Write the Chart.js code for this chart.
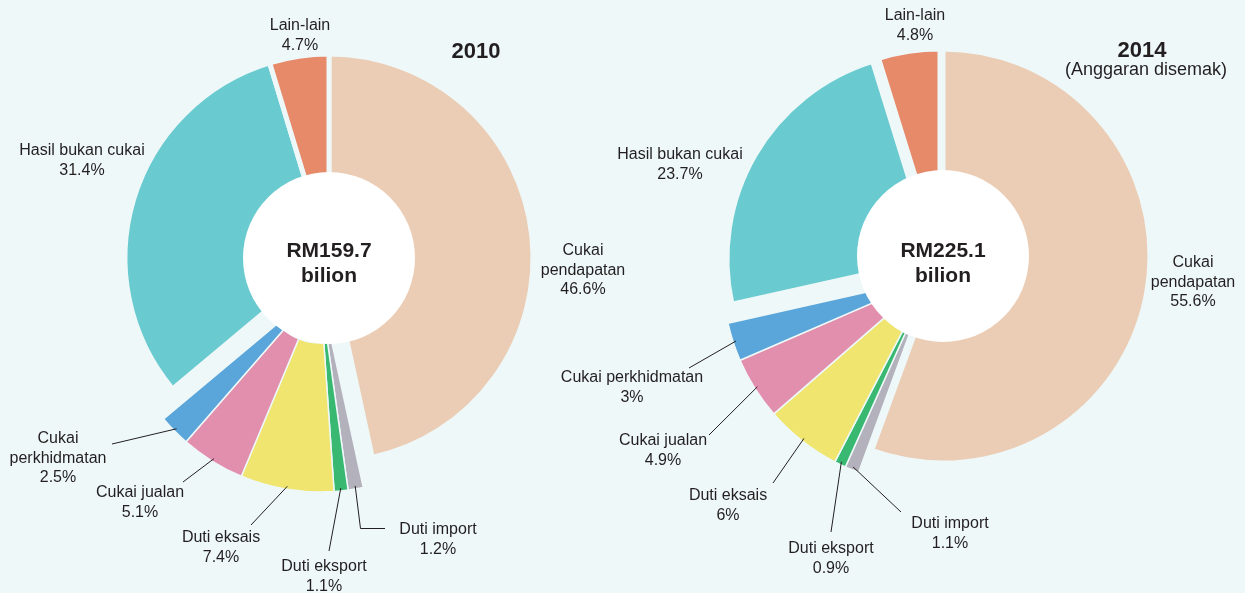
<!DOCTYPE html>
<html>
<head>
<meta charset="utf-8">
<script src="https://cdn.jsdelivr.net/npm/chart.js@4.4.1/dist/chart.umd.min.js"></script>
<style>
  html, body { margin: 0; padding: 0; background: #eef8f9; }
  #wrap { position: relative; width: 1245px; height: 593px; }
  canvas { position: absolute; left: 0; top: 0; }
</style>
</head>
<body>
<div id="wrap">
  <canvas id="c2010" width="1245" height="593"></canvas>
  <canvas id="c2014" width="1245" height="593"></canvas>
</div>
<script>
// data
const categories = [
  "Cukai pendapatan", "Duti import", "Duti eksport", "Duti eksais",
  "Cukai jualan", "Cukai perkhidmatan", "Hasil bukan cukai", "Lain-lain"
];
const share2010 = [46.6, 1.2, 1.1, 7.4, 5.1, 2.5, 31.4, 4.7];
const share2014 = [55.6, 1.1, 0.9, 6, 4.9, 3, 23.7, 4.8];
const years = ["2010", "2014"];
const totals = ["159.7", "225.1"];
const subtitle2014 = "(Anggaran disemak)";

// styling
const BG = "#eef8f9";
const INK = "#231f20";
const FONT = '"Liberation Sans", Arial, sans-serif';
const colours = ["#ebcdb5", "#b3b1bb", "#38b870", "#f0e56f", "#e28fad", "#5aa5d9", "#69cacf", "#e78a69"];
const borders = [5, 1.5, 1.5, 1.5, 1.5, 1.5, 5, 5];

// the small taxes are pulled out together, as one block
const shifts2010 = [[0, 0], [-9, 30], [-9, 30], [-9, 30], [-9, 30], [-9, 30], [0, 0], [0, 0]];
const shifts2014 = [[0, 0], [-13, 22], [-13, 22], [-13, 22], [-13, 22], [-13, 22], [-9, 3], [-3, 0]];

function splitFirst(s) {
  const i = s.indexOf(" ");
  return [s.slice(0, i), s.slice(i + 1)];
}

function shiftedArcs(shifts) {
  return {
    id: "shiftedArcs",
    beforeDatasetDraw(chart, args) {
      const ctx = chart.ctx;
      args.meta.data.forEach((arc, i) => {
        const s = shifts[i];
        ctx.save();
        ctx.translate(s[0], s[1]);
        arc.draw(ctx);
        ctx.restore();
      });
      return false;
    }
  };
}

function overlay(cfg) {
  return {
    id: "overlay",
    afterDatasetsDraw(chart) {
      const ctx = chart.ctx;
      const arcs = chart.getDatasetMeta(0).data;
      const values = chart.data.datasets[0].data;
      const cx = arcs[0].x, cy = arcs[0].y;
      ctx.save();
      ctx.fillStyle = "#ffffff";
      ctx.beginPath();
      ctx.arc(cx, cy, 86, 0, Math.PI * 2);
      ctx.fill();

      ctx.fillStyle = INK;
      ctx.textAlign = "center";
      ctx.textBaseline = "alphabetic";
      ctx.font = "bold 21px " + FONT;
      ctx.fillText("RM" + cfg.total, cx, 257);
      ctx.fillText("bilion", cx, 282);

      ctx.font = "bold 22px " + FONT;
      ctx.fillText(cfg.year, cfg.title[0], cfg.title[1]);
      if (cfg.subtitle) {
        ctx.font = "18px " + FONT;
        ctx.fillText(cfg.subtitle, cfg.sub[0], cfg.sub[1]);
      }

      ctx.font = "16px " + FONT;
      ctx.strokeStyle = INK;
      ctx.lineWidth = 1;
      cfg.labels.forEach((lab, i) => {
        const lines = lab.wrap ? splitFirst(categories[i]) : [categories[i]];
        lines.push(values[i] + "%");
        lines.forEach((t, k) => ctx.fillText(t, lab.x, lab.y + k * 19.5));
        if (lab.lead) {
          const p = arcs[i].getProps(["x", "y", "startAngle", "endAngle", "outerRadius"]);
          const mid = (p.startAngle + p.endAngle) / 2;
          const s = cfg.shifts[i];
          const r = p.outerRadius - 3;
          ctx.beginPath();
          ctx.moveTo(p.x + s[0] + Math.cos(mid) * r, p.y + s[1] + Math.sin(mid) * r);
          lab.lead.forEach(pt => ctx.lineTo(pt[0], pt[1]));
          ctx.stroke();
        }
      });
      ctx.restore();
    }
  };
}

function makeChart(id, values, radius, cutout, padding, shifts, cfg) {
  cfg.shifts = shifts;
  return new Chart(document.getElementById(id), {
    type: "doughnut",
    data: {
      labels: categories,
      datasets: [{
        data: values,
        backgroundColor: colours,
        borderColor: BG,
        borderWidth: borders
      }]
    },
    options: {
      responsive: false,
      animation: false,
      events: [],
      radius: radius,
      cutout: cutout,
      layout: { padding: padding },
      plugins: { legend: { display: false }, tooltip: { enabled: false } }
    },
    plugins: [shiftedArcs(shifts), overlay(cfg)]
  });
}

makeChart("c2010", share2010, 204, "27%", { left: 0, right: 587, top: 0, bottom: 77 }, shifts2010, {
  year: years[0], total: totals[0], title: [476, 58],
  labels: [
    { x: 583, y: 255, wrap: true },
    { x: 438, y: 534, lead: [[360.5, 528.5], [385, 528.5]] },
    { x: 324, y: 571, lead: [[329, 551]] },
    { x: 221, y: 542, lead: [[251, 525]] },
    { x: 140, y: 497, lead: [[183, 482]] },
    { x: 58, y: 443, wrap: true, lead: [[112, 444]] },
    { x: 82, y: 155 },
    { x: 300, y: 30 }
  ]
});

makeChart("c2014", share2014, 207, "29%", { left: 641, right: 0, top: 0, bottom: 81 }, shifts2014, {
  year: years[1], total: totals[1], title: [1142, 57],
  subtitle: subtitle2014, sub: [1146, 75],
  labels: [
    { x: 1193, y: 267, wrap: true },
    { x: 950, y: 528, lead: [[901, 512]] },
    { x: 831, y: 553, lead: [[831, 532]] },
    { x: 728, y: 500, lead: [[773, 483]] },
    { x: 663, y: 445, lead: [[709, 435]] },
    { x: 632, y: 382, lead: [[689, 368]] },
    { x: 680, y: 159 },
    { x: 915, y: 20 }
  ]
});
</script>
</body>
</html>
